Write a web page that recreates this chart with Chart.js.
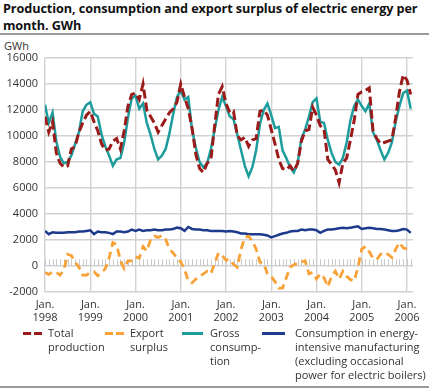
<!DOCTYPE html>
<html>
<head>
<meta charset="utf-8">
<script src="https://cdn.jsdelivr.net/npm/chart.js@4/dist/chart.umd.min.js"></script>
<style>
  body { margin: 0; background: #fff; font-family: "Open Sans", sans-serif; color: #222; }
  #wrap { position: relative; width: 429px; height: 388px; overflow: hidden; }
  #title { position: absolute; left: 3px; top: 0px; font-weight: bold; font-size: 12.7px; line-height: 17px; color: #111; letter-spacing: -0.1px; white-space: nowrap; }
  .rule { position: absolute; left: 0; width: 429px; height: 2px; background: #9a9a9a; }
  #unit { position: absolute; left: 4px; top: 38px; font-size: 11px; color: #333; }
  canvas { position: absolute; left: 0; top: 40px; }
  .key { position: absolute; top: 326px; font-size: 11px; line-height: 14px; color: #333; }
  .sym { position: absolute; top: 332px; height: 3px; }
</style>
</head>
<body>
<div id="wrap">
  <div id="title">Production, consumption and export surplus of electric energy per<br>month. GWh</div>
  <div class="rule" style="top:33px"></div>
  <div id="unit">GWh</div>
  <canvas id="chart" width="429" height="290"></canvas>

  <div class="sym" style="left:23px;width:20px;background:repeating-linear-gradient(90deg,#9b1b1b 0 8px,transparent 8px 11px);"></div>
  <div class="key" style="left:48px">Total<br>production</div>
  <div class="sym" style="left:105px;width:20px;background:repeating-linear-gradient(90deg,#f7a136 0 8px,transparent 8px 11px);"></div>
  <div class="key" style="left:130px">Export<br>surplus</div>
  <div class="sym" style="left:182px;width:21px;background:#1c9c9c;"></div>
  <div class="key" style="left:210px">Gross<br>consump-<br>tion</div>
  <div class="sym" style="left:262px;width:23px;background:#1d3a8c;"></div>
  <div class="key" style="left:295px">Consumption in energy-<br>intensive manufacturing<br>(excluding occasional<br>power for electric boilers)</div>
  <div class="rule" style="top:386px"></div>
</div>
<script>
// monthly values, Jan 1998 - Feb 2006 (GWh)
const startYear = 1998;

const totalProduction = [
  11500, 10300, 11100, 8700, 7900, 7600, 7700, 9000, 9200, 10300, 11000, 11600,
  11900, 11100, 10400, 9400, 8900, 9000, 9600, 9800, 9000, 10400, 12300, 13200,
  13300, 12800, 14000, 12000, 11500, 11000, 10300, 10800, 11300, 11800, 12100, 12600,
  14000, 13000, 12100, 10600, 8600, 7500, 7200, 7900, 8200, 10800, 13200, 13800,
  12500, 11800, 11900, 10000, 9700, 9900, 9200, 9700, 9800, 11900, 12000, 11600,
  10500, 9400, 8200, 7500, 7400, 7700, 7300, 7900, 9600, 10400, 10500, 12200,
  11600, 10800, 10500, 8200, 7800, 7400, 6400, 7900, 8300, 9700, 11200, 13200,
  13400, 13500, 13700, 10400, 9800, 9400, 9500, 9600, 9700, 11400, 13400, 14700,
  14300, 13200
];

const exportSurplus = [
  -500, -650, -450, -500, -700, -300, 900, 800, 300, -100, -700, -700,
  -500, -450, -750, -500, -200, 600, 1800, 1650, 400, -200, 400, 400,
  700, 600, 1500, 1150, 2000, 2300, 2200, 2350, 2050, 1300, 1000, 600,
  300, -250, -1150, -1300, -1000, -800, -600, -400, -600, 200, 1000, 800,
  450, 500, 130, -100, 1300, 2200, 2300, 1900, 1300, 300, 200, -600,
  -800, -1200, -1700, -1700, -900, -100, 100, 200, 300, 400, -600, -500,
  -1000, -600, -900, -1600, -800, -400, -1000, -400, -800, -1050, -1150, -100,
  1300, 1500, 1100, 600, 500, 900, 1050, 900, 650, 1300, 1800, 1400,
  1300, 1150
];

const grossConsumption = [
  12400, 11000, 11800, 9600, 8400, 7900, 8000, 8500, 9400, 10300, 11900, 12400,
  12600, 11700, 11500, 10100, 9200, 8500, 7700, 8200, 8300, 9500, 11400, 12900,
  13100, 12100, 12500, 11000, 10100, 9000, 8200, 8500, 9000, 10200, 11700, 13000,
  13500, 12800, 13000, 10500, 9100, 8000, 7600, 7900, 9000, 10500, 12000, 13000,
  12300, 11500, 11300, 10100, 8900, 7700, 6900, 7600, 8900, 10900, 12000, 12500,
  11600, 10600, 10700, 8900, 8300, 7600, 7200, 7900, 9800, 10500, 11500, 12600,
  12900, 11100, 11000, 9700, 8700, 8000, 7800, 8300, 9500, 11200, 12300, 12800,
  12300, 11900, 12500, 10300, 9700, 8900, 8200, 8700, 9500, 11100, 12300, 13300,
  13500, 12100
];

const energyIntensive = [
  2700, 2450, 2600, 2550, 2550, 2550, 2600, 2600, 2600, 2650, 2650, 2700,
  2750, 2450, 2650, 2600, 2600, 2550, 2450, 2650, 2650, 2600, 2650, 2800,
  2700, 2800, 2700, 2750, 2750, 2800, 2750, 2750, 2800, 2800, 2850, 2950,
  2900, 2700, 3000, 2850, 2800, 2800, 2750, 2750, 2700, 2700, 2700, 2700,
  2650, 2700, 2650, 2600, 2500, 2500, 2450, 2450, 2450, 2450, 2400, 2350,
  2200, 2300, 2400, 2500, 2550, 2650, 2700, 2700, 2800, 2750, 2800, 2800,
  2750, 2550, 2700, 2800, 2800, 2850, 2900, 2950, 2900, 2950, 3000, 3050,
  2850, 2900, 2950, 2900, 2850, 2850, 2800, 2750, 2700, 2700, 2750, 2850,
  2800, 2550
];

const yTicks = [-2000, 0, 2000, 4000, 6000, 8000, 10000, 12000, 14000, 16000];
const xTickMonths = [0, 12, 24, 36, 48, 60, 72, 84, 96];

const toPoints = arr => arr.map((v, i) => ({ x: i, y: v }));

// little grey ticks sitting on the zero line, one per month
const zeroHatch = {
  id: 'zeroHatch',
  beforeDatasetsDraw(chart) {
    const { ctx, scales: { x, y } } = chart;
    const y0 = y.getPixelForValue(0);
    const y1 = y.getPixelForValue(520);
    ctx.save();
    ctx.strokeStyle = '#c9c9c9';
    ctx.lineWidth = 1;
    for (let m = 0; m <= x.max; m++) {
      const px = Math.round(x.getPixelForValue(m)) + 0.5;
      ctx.beginPath();
      ctx.moveTo(px, y0);
      ctx.lineTo(px, y1);
      ctx.stroke();
    }
    ctx.restore();
  }
};

new Chart(document.getElementById('chart'), {
  type: 'line',
  data: {
    datasets: [
      {
        label: 'Total production',
        data: toPoints(totalProduction),
        borderColor: '#9b1b1b',
        borderWidth: 3,
        borderDash: [9, 4],
        order: 0
      },
      {
        label: 'Export surplus',
        data: toPoints(exportSurplus),
        borderColor: '#f7a136',
        borderWidth: 2.8,
        borderDash: [8, 5],
        order: 1
      },
      {
        label: 'Gross consumption',
        data: toPoints(grossConsumption),
        borderColor: '#1c9c9c',
        borderWidth: 2.5,
        order: 2
      },
      {
        label: 'Consumption in energy-intensive manufacturing',
        data: toPoints(energyIntensive),
        borderColor: '#1d3a8c',
        borderWidth: 2.5,
        order: 3
      }
    ]
  },
  options: {
    responsive: false,
    animation: false,
    devicePixelRatio: 1,
    layout: { padding: { top: 18, right: 16, left: 0, bottom: 0 } },
    elements: { point: { radius: 0 }, line: { tension: 0, borderCapStyle: 'butt' } },
    plugins: { legend: { display: false }, tooltip: { enabled: false } },
    scales: {
      x: {
        type: 'linear',
        min: 0,
        max: 97.6,
        afterFit: s => { s.height = 38; },
        afterBuildTicks: s => { s.ticks = xTickMonths.map(v => ({ value: v })); },
        grid: { color: '#d2d2d2', lineWidth: 1.4, drawTicks: false },
        border: { display: false },
        ticks: {
          padding: 6,
          maxRotation: 0,
          autoSkip: false,
          color: '#333',
          font: { family: 'Open Sans', size: 11, lineHeight: 1.2 },
          callback: v => ['Jan.', String(startYear + v / 12)]
        }
      },
      y: {
        min: -2000,
        max: 16000,
        afterFit: s => { s.width = 45; },
        afterBuildTicks: s => { s.ticks = yTicks.map(v => ({ value: v })); },
        grid: { color: '#d2d2d2', lineWidth: 1.4, drawTicks: false },
        border: { display: false },
        ticks: {
          padding: 7,
          color: '#333',
          font: { family: 'Open Sans', size: 11 },
          callback: v => String(v)
        }
      }
    }
  },
  plugins: [zeroHatch]
});
</script>
</body>
</html>
